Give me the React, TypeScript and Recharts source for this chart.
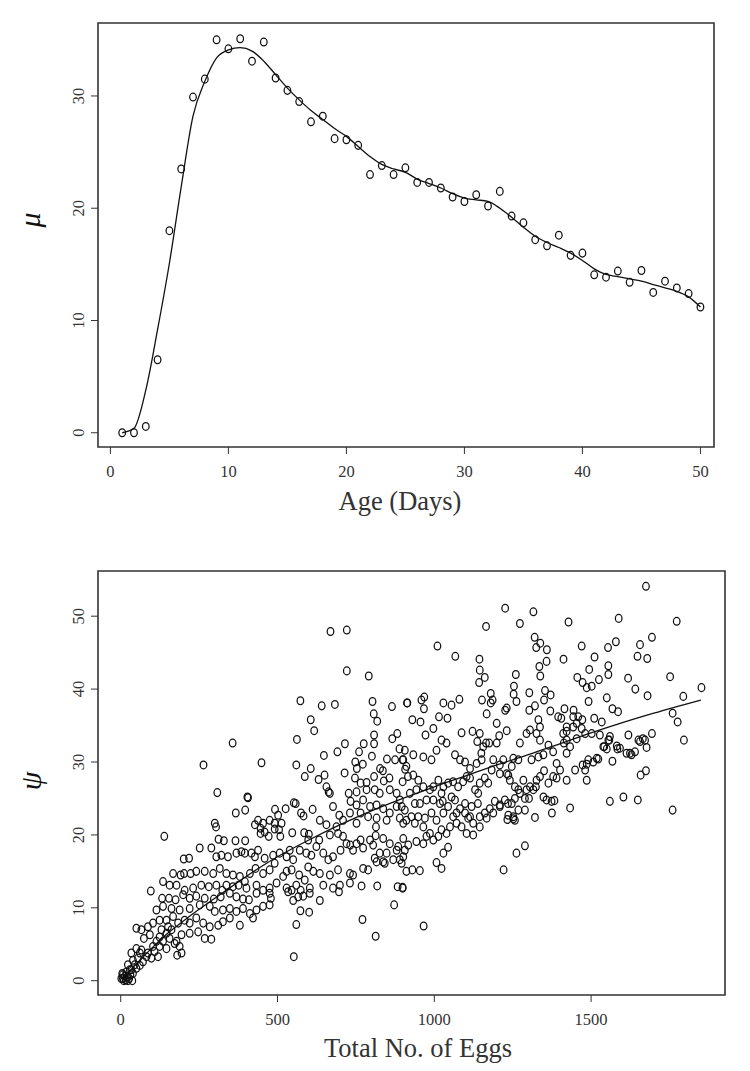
import React from 'react';
import { ComposedChart, Scatter, Line, XAxis, YAxis, ReferenceArea } from 'recharts';

const FONT = "'Liberation Serif', 'DejaVu Serif', serif";
const INK = '#111';
const AXIS = '#333';

// ---- top panel: mean vs age ----
const ages = [1, 2, 3, 4, 5, 6, 7, 8, 9, 10, 11, 12, 13, 14, 15, 16, 17, 18, 19, 20, 21, 22, 23, 24, 25,
  26, 27, 28, 29, 30, 31, 32, 33, 34, 35, 36, 37, 38, 39, 40, 41, 42, 43, 44, 45, 46, 47, 48, 49, 50];
const muObserved = [0.0, 0.0, 0.56, 6.5, 18.0, 23.5, 29.9, 31.5, 35.0, 34.2, 35.1, 33.1, 34.8, 31.6, 30.5,
  29.5, 27.7, 28.2, 26.2, 26.1, 25.6, 23.0, 23.8, 23.0, 23.6, 22.3, 22.3, 21.8, 21.0, 20.6, 21.2, 20.2, 21.5,
  19.3, 18.7, 17.2, 16.65, 17.6, 15.8, 16.0, 14.07, 13.86, 14.4, 13.4, 14.45, 12.5, 13.5, 12.9, 12.4, 11.2];
const muSmooth = [0.0, 0.4, 3.8, 9.2, 15.1, 21.9, 28.2, 31.3, 33.4, 34.1, 34.3, 34.0, 33.1, 31.9, 30.7,
  29.65, 28.7, 27.9, 27.1, 26.4, 25.5, 24.6, 23.9, 23.5, 23.2, 22.6, 22.2, 21.8, 21.3, 20.9, 20.75, 20.6, 20.0,
  19.2, 18.3, 17.5, 16.95, 16.5, 16.0, 15.35, 14.6, 14.1, 13.9, 13.7, 13.5, 13.2, 12.9, 12.6, 12.1, 11.2];
const ageTicks = [0, 10, 20, 30, 40, 50];
const muTicks = [0, 10, 20, 30];

// ---- bottom panel: psi vs total eggs, [eggs, psi] ----
const eggPsiPairs: [number, number][] = [
  [669,47.9],[721,48.1],[721,42.5],[791,41.8],
  [573,38.4],[641,37.7],[683,37.9],[803,38.3],[865,37.6],[913,38.1],[606,35.8],[807,36.6],[818,35.6],
  [617,34.3],[808,33.7],[882,33.9],[562,33.1],[357,32.6],[715,32.5],[775,32.5],[808,32.5],[866,33.2],[691,31.4],
  [760,31.4],[889,31.8],[648,30.9],[801,30.8],[849,30.4],
  [264,29.6],[449,29.9],[560,29.6],[606,29.1],[748,30.0],[772,29.7],[875,30.3],[899,30.3],[753,29.1],[827,29.1],
  [907,29.0],[714,28.5],[836,28.8],[587,28.0],[650,28.2],[808,28.0],[916,28.0],[631,27.6],[839,27.4],[857,27.8],
  [899,27.3],[656,26.6],[663,25.9],[747,27.8],[765,27.1],[784,27.2],[727,25.7],[752,25.9],[784,26.2],[810,26.2],
  [826,25.7],[858,26.2],[880,25.7],[308,25.8],[404,25.2],[406,25.1],[667,25.7],
  [552,24.4],[558,24.3],[492,23.5],[367,23.0],[397,23.4],[300,21.6],[304,21.1],[526,23.6],[575,23.0],[583,22.6],
  [612,23.5],[635,22.0],[656,21.4],[677,23.9],[697,22.7],[709,22.0],[688,21.1],[733,24.6],[752,24.1],[773,24.8],
  [795,23.9],[816,24.1],[837,23.6],[858,23.0],[880,23.9],[906,23.4],[731,23.0],[765,23.0],[789,22.5],[816,22.3],
  [848,22.0],[890,22.3],[454,21.6],[475,22.0],[491,21.6],[513,21.6],[428,21.4],[438,22.0],[502,22.7],[752,21.6],
  [814,21.1],
  [139,19.8],[312,19.4],[329,19.2],[366,19.2],[397,19.2],[446,20.9],[446,20.2],[459,20.4],[472,19.8],[491,20.8],
  [505,20.7],[509,19.8],[547,20.3],[585,20.3],[600,20.1],[598,19.3],[633,19.3],[667,20.0],[693,20.2],[709,19.8],
  [720,18.8],[752,18.8],[765,19.3],[795,19.3],[813,19.9],[837,19.5],[858,18.8],[885,18.4],[901,19.5],[701,17.9],
  [732,18.6],[741,17.9],[773,18.2],[805,18.6],[826,17.5],[848,17.5],[880,17.9],[901,17.0],[252,18.2],[289,18.2],
  [305,17.0],[321,17.2],[342,17.0],[369,17.5],[385,17.7],[396,17.5],[417,17.5],[428,17.0],[438,17.9],[459,16.8],
  [486,17.2],[507,17.5],[529,17.0],[539,17.9],[550,16.6],[571,17.9],[592,17.5],[608,17.2],[624,18.4],[646,17.5],
  [662,16.6],[677,17.0],[810,16.8],[837,16.3],
  [201,16.7],[218,16.8],[167,14.7],[191,14.5],[202,14.7],[223,14.7],[241,15.0],[268,15.0],[295,14.7],[316,15.4],
  [337,14.7],[358,14.5],[380,14.3],[396,13.6],[412,14.7],[430,15.4],[454,14.7],[475,15.2],[491,16.1],[518,14.3],
  [529,15.0],[545,15.2],[569,14.5],[587,13.8],[598,15.6],[614,15.0],[635,14.7],[667,14.5],[693,15.2],[731,14.7],
  [741,14.5],[773,15.4],[789,15.2],[816,16.3],[842,16.1],[869,16.6],[890,16.6],[911,15.0],
  [135,13.6],[156,13.1],[178,13.1],[204,12.4],[231,12.7],[257,13.1],[281,12.9],[305,13.1],[324,12.4],[337,13.1],
  [358,12.9],[376,13.1],[401,12.7],[433,13.1],[454,12.4],[475,12.7],[497,13.4],[529,12.7],[545,12.4],[560,13.1],
  [574,12.4],[603,12.7],[646,13.1],[677,12.7],[699,13.1],[731,13.4],[768,13.0],[818,13.0],[883,12.9],[899,12.7],
  [96,12.3],[132,11.3],[154,11.3],[175,11.1],[199,11.8],[220,11.3],[241,11.6],[268,11.3],[297,11.2],[319,11.5],
  [348,12.0],[369,11.5],[390,11.2],[409,11.1],[433,12.0],[475,12.0],[479,11.3],[534,12.2],[550,11.0],[566,11.5],
  [582,11.6],[603,12.0],[635,11.0],[696,12.2],[872,10.4],
  [114,9.7],[135,10.2],[162,9.9],[188,9.7],[220,9.9],[252,10.4],[284,10.2],[300,9.5],[326,9.7],[348,9.9],
  [369,9.5],[390,9.9],[412,9.2],[433,9.7],[454,10.2],[475,10.4],[573,9.6],[601,9.4],[422,8.6],[380,7.6],
  [348,8.6],[326,8.1],[311,7.6],[284,7.4],[263,7.9],[241,8.6],[220,7.9],[204,8.3],[183,7.9],[167,8.8],
  [146,8.3],[124,8.3],[103,7.9],[87,7.4],[66,7.0],[50,7.2],[74,5.8],[93,6.3],[124,6.0],[146,6.5],
  [162,7.0],[178,5.4],[194,6.3],[220,6.5],[247,6.7],[268,5.8],[289,5.7],[560,7.7],[771,8.4],[813,6.1],
  [552,3.3],[50,4.4],[66,4.2],[87,3.8],[108,4.0],[124,4.7],[146,4.4],[172,5.1],[188,4.7],[180,3.5],
  [194,3.8],[34,3.8],[39,2.8],[55,3.1],[71,2.6],[98,3.1],[119,3.3],[23,2.2],[29,1.5],[39,1.0],
  [50,1.7],[7,0.8],[13,0.6],[2,0.3],[16,0.1],[27,0.3],[37,0.0],[5,1.0],[18,1.2],[45,2.2],
  [7,0.3],[20,0.5],[31,0.8],[10,0.0],[23,0.0],[34,1.5],[61,2.1],[82,3.3],[103,4.7],[114,5.4],
  [135,5.4],[156,5.8],[61,3.8],[130,7.0],[151,7.4],
  [1675,54.1],[1226,51.1],[1316,50.6],[1165,48.6],[1273,49.0],[1428,49.2],[1588,49.7],[1773,49.3],[1010,45.9],
  [1067,44.5],[1320,47.1],[1338,46.3],[1325,45.7],[1359,45.4],[1470,45.9],[1554,45.7],[1579,46.5],[1656,46.1],
  [1694,47.1],[1144,44.1],[1412,44.1],[1511,44.4],[1648,44.5],[1679,44.2],[1145,42.6],[1161,41.6],[1143,40.9],
  [1335,43.1],[1358,43.8],[1338,41.8],[1260,42.0],[1494,42.7],[1555,43.2],[1555,42.0],[1456,41.6],[1473,40.9],
  [1486,40.2],[1502,40.4],[1525,41.3],[1618,41.5],[1752,41.7],[1852,40.2],[1641,40.0],[1254,40.4],[1253,39.3],
  [1303,39.5],[1353,39.8],[1371,39.2],[1180,39.4],[1186,38.5],[1180,38.1],[1167,36.6],[1199,35.3],[1152,38.5],
  [1231,37.4],[1226,37.1],[1262,38.3],[1303,37.1],[1321,37.7],[1332,35.8],[1337,34.8],[1350,38.5],[1370,37.0],
  [1405,36.0],[1415,37.3],[1444,37.1],[1443,36.2],[1472,35.8],[1492,38.3],[1510,36.0],[1534,35.5],[1550,38.8],
  [1568,37.3],[1586,36.9],[1680,39.1],[1794,39.0],[1760,36.7],[1776,35.5],[1796,33.0],[1694,33.9],[1677,32.0],
  [1665,33.2],[1651,33.0],[1619,33.7],[1613,31.2],[1629,31.0],[1640,31.4],[1584,31.8],[1582,32.2],[1558,33.0],
  [1568,30.1],[1550,31.8],[1542,32.1],[1523,30.4],[1507,30.0],[1486,29.7],[1481,28.9],[1486,27.5],[1433,23.7],
  [1658,28.2],[1675,28.8],[1560,24.6],[1603,25.2],[1649,24.8],[1760,23.4],[1375,23.0],[1321,22.4],[1233,22.1],
  [1252,22.2],[1289,18.5],[1262,17.5],[1221,15.2],[966,7.5],[899,12.8],[930,15.2],[954,15.1],[1007,16.2],
  [1023,15.4],[1029,17.5],[1044,18.3],[917,18.6],[943,19.1],[965,18.8],[906,17.9],[896,16.1],
  [914,38.1],[959,38.5],[968,38.9],[967,37.3],[930,35.8],[956,35.5],[972,33.7],[997,34.6],[1015,36.2],
  [1042,36.0],[1029,38.1],[1055,37.8],[1080,38.6],[1087,34.0],[1122,34.2],[1145,33.9],[1137,32.8],[1165,32.6],
  [1156,32.1],[1150,31.2],[1175,32.6],[1199,32.6],[1207,33.6],[1231,34.3],[1252,30.5],[1220,30.3],[1209,29.6],
  [1247,29.4],[1268,30.3],[1273,32.6],[1294,33.9],[1305,34.4],[1326,33.9],[1337,33.0],[1364,32.3],[1310,30.3],
  [1332,30.7],[1348,31.0],[1379,31.4],[1390,29.8],[1413,32.6],[1422,33.0],[1433,32.1],[1454,33.2],[1411,33.9],
  [1470,34.6],[1443,34.8],[1422,31.2],[1401,28.9],[1379,28.0],[1364,27.1],[1350,28.8],[1324,26.6],[1316,26.2],
  [1305,26.6],[1284,27.5],[1268,26.2],[1257,26.6],[1241,27.5],[1236,28.2],[1183,28.9],[1172,27.1],[1161,27.8],
  [1145,27.1],[1130,26.2],[1114,27.8],[1103,28.0],[1092,27.3],[1076,26.6],[1060,27.3],[1044,27.1],[1029,26.6],
  [1013,27.5],[997,26.6],[986,26.2],[965,26.6],[949,27.5],[933,28.2],[911,29.4],[901,30.3],[906,31.6],
  [933,31.0],[965,30.7],[991,30.3],[1007,31.6],[1023,33.0],[1039,32.6],[1066,31.0],[1082,30.3],[1098,30.0],
  [1114,29.1],[1135,29.8],[1151,30.3],[1188,30.3],[1209,28.4],[1231,28.4],[1140,25.7],[1119,23.9],[1098,23.0],
  [1108,22.3],[1124,21.6],[1145,22.5],[1161,23.0],[1177,23.6],[1193,24.6],[1209,24.1],[1225,24.8],[1247,24.3],
  [1257,25.0],[1273,25.7],[1294,26.2],[1289,25.0],[1268,23.4],[1252,22.5],[1236,22.7],[1209,23.9],[1188,23.0],
  [1167,22.3],[1145,21.1],[1124,20.0],[1103,20.2],[1087,21.1],[1071,21.6],[1060,22.5],[1050,21.1],[1039,20.2],
  [1023,20.7],[1013,19.8],[997,19.3],[986,20.2],[975,19.8],[965,21.1],[949,22.5],[938,21.6],[927,22.5],
  [911,22.0],[901,21.6],[896,23.9],[922,25.7],[943,26.2],[954,24.3],[975,24.8],[997,24.8],[1018,24.3],
  [1029,23.0],[1007,22.0],[991,23.0],[970,22.3],[938,24.3],[890,24.8],[1066,24.8],[1082,23.6],[1098,24.3],
  [1044,23.9],[1023,25.7],[1055,25.2],[1071,23.0],[1114,22.5],[1348,25.2],[1358,24.8],[1374,24.6],[1326,27.5],
  [1337,28.0],[1390,27.8],[1422,27.5],[1449,28.9],[1473,29.6],[1491,30.3],[1518,30.5],[1539,32.1],[1560,33.5],
  [1422,34.2],[1395,36.2],[1422,34.8],[1459,36.2],[1454,35.3],[1481,33.9],[1502,33.9],[1528,33.7],[1555,33.0],
  [1592,31.9],[1624,31.2],[1656,32.8],[1672,33.0],
  [1289,23.4],[1302,25.0],[1383,24.7],[1257,22.0],[1027,24.6],[1139,24.3],[1235,24.3],
];
const fitEggs = [5, 25, 50, 100, 150, 200, 250, 300, 350, 400, 450, 500, 600, 700, 800, 900, 1000,
  1100, 1200, 1300, 1400, 1500, 1600, 1700, 1850];
const fitPsi = [0.3, 1.2, 2.3, 4.5, 6.5, 8.2, 9.8, 11.3, 12.8, 14.3, 15.7, 17.0, 19.3, 21.4, 23.3, 25.0, 26.6,
  28.1, 29.6, 31.0, 32.5, 34.0, 35.4, 36.7, 38.5];
const eggTicks = [0, 500, 1000, 1500];
const psiTicks = [0, 10, 20, 30, 40, 50];

const muPoints = ages.map((a, i) => ({ x: a, y: muObserved[i] }));
const muLine = ages.map((a, i) => ({ x: a, y: muSmooth[i] }));
const eggPoints = eggPsiPairs.map(([x, y]) => ({ x, y }));
const eggLine = fitEggs.map((x, i) => ({ x, y: fitPsi[i] }));

const Ring = (p: any) =>
  p.cx == null ? null : (
    <ellipse cx={p.cx} cy={p.cy} rx={3.3} ry={3.9} fill="none" stroke={INK} strokeWidth={1.25} />
  );

const SideTick = (p: any) => (
  <text x={p.x} y={p.y} transform={`rotate(-90 ${p.x} ${p.y})`} textAnchor="middle"
    fontSize={16.5} fill={AXIS} fontFamily={FONT}>
    {p.payload.value}
  </text>
);

const tickStyle = { fontSize: 16.5, fill: AXIS, fontFamily: FONT };

export default function App() {
  const topX: [number, number] = [-1.05, 51.15];
  const topY: [number, number] = [-1.27, 36.5];
  const botX: [number, number] = [-72.4, 1927];
  const botY: [number, number] = [-1.96, 56.2];
  return (
    <div style={{ position: 'absolute', left: 0, top: 0, width: 750, height: 1071, background: '#fff' }}>
      <div style={{ position: 'absolute', left: 0, top: 0 }}>
        <ComposedChart width={750} height={530} margin={{ top: 23, right: 36, bottom: 23, left: 0 }}>
          <XAxis type="number" dataKey="x" domain={topX} ticks={ageTicks} allowDataOverflow
            axisLine={false} tickSize={7} tickMargin={11} tickLine={{ stroke: AXIS }} tick={tickStyle} height={60} />
          <YAxis type="number" dataKey="y" domain={topY} ticks={muTicks} allowDataOverflow width={98}
            axisLine={false} tickSize={7} tickMargin={7} tickLine={{ stroke: AXIS }} tick={<SideTick />} />
          <ReferenceArea x1={topX[0]} x2={topX[1]} y1={topY[0]} y2={topY[1]} ifOverflow="visible"
            fill="none" stroke={AXIS} strokeWidth={1.6} />
          <Line data={muLine} dataKey="y" type="monotone" stroke={INK} strokeWidth={1.3} dot={false}
            isAnimationActive={false} />
          <Scatter data={muPoints} dataKey="y" shape={Ring} isAnimationActive={false} />
        </ComposedChart>
      </div>
      <div style={{ position: 'absolute', left: 0, top: 530 }}>
        <ComposedChart width={750} height={541} margin={{ top: 41, right: 25, bottom: 26, left: 0 }}>
          <XAxis type="number" dataKey="x" domain={botX} ticks={eggTicks} allowDataOverflow
            axisLine={false} tickSize={7} tickMargin={11} tickLine={{ stroke: AXIS }} tick={tickStyle} height={50} />
          <YAxis type="number" dataKey="y" domain={botY} ticks={psiTicks} allowDataOverflow width={98}
            axisLine={false} tickSize={7} tickMargin={7} tickLine={{ stroke: AXIS }} tick={<SideTick />} />
          <ReferenceArea x1={botX[0]} x2={botX[1]} y1={botY[0]} y2={botY[1]} ifOverflow="visible"
            fill="none" stroke={AXIS} strokeWidth={1.6} />
          <Scatter data={eggPoints} dataKey="y" shape={Ring} isAnimationActive={false} />
          <Line data={eggLine} dataKey="y" type="monotone" stroke={INK} strokeWidth={1.3} dot={false}
            isAnimationActive={false} />
        </ComposedChart>
      </div>
      <svg width={750} height={1071} style={{ position: 'absolute', left: 0, top: 0, pointerEvents: 'none' }}>
        <text x={400} y={501} textAnchor="middle" dominantBaseline="central" fontSize={26.5} fill={AXIS}
          fontFamily={FONT}>Age (Days)</text>
        <text x={418} y={1048} textAnchor="middle" dominantBaseline="central" fontSize={26.5} fill={AXIS}
          fontFamily={FONT}>Total No. of Eggs</text>
        <text x={29} y={220} transform="rotate(-90 29 220)" textAnchor="middle" dominantBaseline="central"
          fontSize={30} fontStyle="italic" fill={INK} fontFamily={FONT}>μ</text>
        <text x={30} y={781} transform="rotate(-90 30 781)" textAnchor="middle" dominantBaseline="central"
          fontSize={30} fontStyle="italic" fill={INK} fontFamily={FONT}>ψ</text>
      </svg>
    </div>
  );
}
